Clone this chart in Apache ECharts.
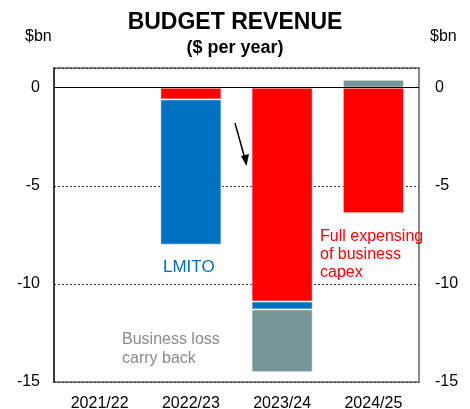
<!DOCTYPE html>
<html>
<head>
<meta charset="utf-8">
<script src="https://cdn.jsdelivr.net/npm/echarts@6/dist/echarts.min.js"></script>
<style>
  html, body { margin: 0; padding: 0; background: #fff; }
  #chart { width: 470px; height: 409px; }
</style>
</head>
<body>
<div id="chart"></div>
<script>
// Budget revenue impact by financial year, $bn
const years = ['2021/22', '2022/23', '2023/24', '2024/25'];
const fullExpensing = [null, -0.6, -10.9, -6.4];
const lmito = [null, -7.4, -0.4, null];
const lossCarryBack = [null, null, -3.2, 0.4];
const yTicks = [-15, -10, -5, 0];

const FONT = 'Liberation Sans, Arial, sans-serif';
const chart = echarts.init(document.getElementById('chart'), null, { renderer: 'canvas' });

const barStyle = (color) => ({ color: color, borderColor: 'rgba(255,255,255,0.55)', borderWidth: 1 });

const yAxisCommon = {
  type: 'value',
  min: yTicks[0],
  max: 1,
  interval: 5,
  axisTick: { show: false },
  axisLabel: {
    showMaxLabel: false,
    color: '#000',
    fontFamily: FONT,
    fontSize: 16
  }
};

chart.setOption({
  animation: false,
  title: {
    text: 'BUDGET REVENUE',
    subtext: '($ per year)',
    left: 'center',
    top: 6,
    itemGap: 5,
    textStyle: { fontFamily: FONT, fontSize: 23, fontWeight: 'bold', color: '#000' },
    subtextStyle: { fontFamily: FONT, fontSize: 18, fontWeight: 'bold', color: '#000' }
  },
  grid: {
    left: 54, right: 51, top: 68, bottom: 27,
    outerBoundsMode: 'none',
    containLabel: false,
    show: true,
    borderColor: '#8a8a8a',
    borderWidth: 2,
    backgroundColor: 'transparent'
  },
  xAxis: {
    type: 'category',
    data: years,
    axisLine: { show: false },
    axisTick: { show: false },
    axisLabel: { color: '#000', fontFamily: FONT, fontSize: 16, margin: 14 }
  },
  yAxis: [
    Object.assign({}, yAxisCommon, {
      position: 'left',
      axisLine: { show: true, lineStyle: { color: '#222', width: 1.5 } },
      axisLabel: Object.assign({}, yAxisCommon.axisLabel, { margin: 14 }),
      splitLine: { show: true, lineStyle: { color: '#333', type: [2, 2], width: 1 } }
    }),
    Object.assign({}, yAxisCommon, {
      position: 'right',
      axisLine: { show: false },
      axisLabel: Object.assign({}, yAxisCommon.axisLabel, { margin: 16 }),
      splitLine: { show: false }
    })
  ],
  series: [
    {
      name: 'Full expensing of business capex',
      type: 'bar',
      stack: 'rev',
      barWidth: '67%',
      data: fullExpensing,
      itemStyle: barStyle('#ff0000'),
      markLine: {
        silent: true,
        symbol: 'none',
        label: { show: false },
        lineStyle: { color: '#000', type: 'solid', width: 1.2 },
        data: [{ yAxis: 0 }],
        z: 10
      }
    },
    {
      name: 'LMITO',
      type: 'bar',
      stack: 'rev',
      data: lmito,
      itemStyle: barStyle('#0070c0')
    },
    {
      name: 'Business loss carry back',
      type: 'bar',
      stack: 'rev',
      data: lossCarryBack,
      itemStyle: barStyle('#769795')
    }
  ],
  graphic: [
    { type: 'text', left: 25, top: 29, style: { text: '$bn', font: '16px ' + FONT, fill: '#000' } },
    { type: 'text', left: 430, top: 29, style: { text: '$bn', font: '16px ' + FONT, fill: '#000' } },
    { type: 'text', left: 163, top: 259, style: { text: 'LMITO', font: '17px ' + FONT, fill: '#0070c0' } },
    { type: 'text', left: 320, top: 228, style: { text: 'Full expensing\nof business\ncapex', font: '16px ' + FONT, fill: '#ff0000', lineHeight: 18 } },
    { type: 'text', left: 122, top: 330, style: { text: 'Business loss\ncarry back', font: '16px ' + FONT, fill: '#8a8a8a', lineHeight: 19 } },
    {
      type: 'line',
      shape: { x1: 235, y1: 123, x2: 245, y2: 159 },
      style: { stroke: '#000', lineWidth: 1.5 }
    },
    {
      type: 'polygon',
      shape: { points: [[246.5, 166], [241, 156], [249, 154]] },
      style: { fill: '#000' }
    }
  ]
});
</script>
</body>
</html>
